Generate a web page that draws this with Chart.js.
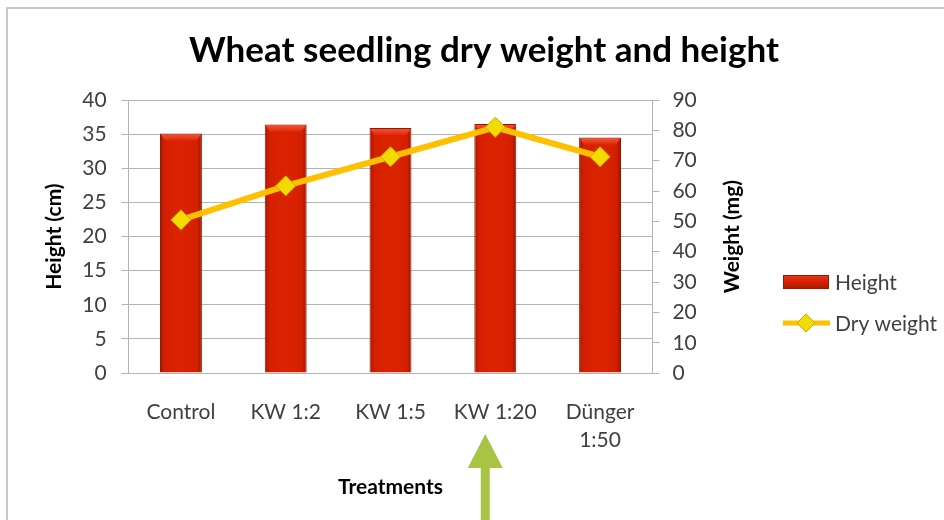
<!DOCTYPE html>
<html>
<head>
<meta charset="utf-8">
<script src="https://cdn.jsdelivr.net/npm/chart.js@4.4.1/dist/chart.umd.min.js"></script>
<style>
  html, body { margin: 0; padding: 0; background: #fff; }
  #wrap { position: relative; width: 944px; height: 520px; }
</style>
</head>
<body>
<div id="wrap"><canvas id="chart" width="944" height="520"></canvas></div>
<script>
const categories = ["Control", "KW 1:2", "KW 1:5", "KW 1:20", ["Dünger", "1:50"]];
const heightCm = [35.1, 36.4, 35.9, 36.5, 34.5];
const dryWeightMg = [50.5, 61.7, 71.3, 81, 71.3];
const heightTicks = [0, 5, 10, 15, 20, 25, 30, 35, 40];
const weightTicks = [0, 10, 20, 30, 40, 50, 60, 70, 80, 90];

const FONT = "Lato, 'DejaVu Sans', sans-serif";
const TEXT = "#404040";
const GRID = "#b4b4b4";

// red bars with darker edges, like the excel bevel
function barFill(c) {
  const chart = c.chart;
  const xs = chart.scales.x;
  if (!xs || !chart.chartArea) return "#d42000";
  const cx = xs.getPixelForValue(c.dataIndex);
  const w = (xs.width / categories.length) * 0.4;
  const g = chart.ctx.createLinearGradient(cx - w / 2, 0, cx + w / 2, 0);
  g.addColorStop(0, "#a81800");
  g.addColorStop(0.12, "#d42000");
  g.addColorStop(0.5, "#dc2300");
  g.addColorStop(0.88, "#d42000");
  g.addColorStop(1, "#a01600");
  return g;
}

/* frame, title, legend, right axis title and arrow drawn by hand */
const decorations = {
  id: "decorations",
  beforeDraw(chart) {
    const ctx = chart.ctx;
    ctx.save();
    ctx.strokeStyle = "#c8c8c8";
    ctx.lineWidth = 2;
    ctx.strokeRect(7, 8, 1000, 1000);
    ctx.restore();
  },
  afterDatasetDraw(chart, args) {
    // light bevel cap on top of each bar
    if (args.meta.type !== "bar") return;
    const ctx = chart.ctx;
    ctx.save();
    args.meta.data.forEach(bar => {
      const l = bar.x - bar.width / 2, r = bar.x + bar.width / 2, t = bar.y;
      const g = ctx.createLinearGradient(0, t, 0, t + 7);
      g.addColorStop(0, "#f25a3c");
      g.addColorStop(1, "#e0280a");
      ctx.fillStyle = g;
      ctx.beginPath();
      ctx.moveTo(l + 1, t + 1);
      ctx.lineTo(r - 1, t + 1);
      ctx.lineTo(r - 5, t + 7);
      ctx.lineTo(l + 5, t + 7);
      ctx.closePath();
      ctx.fill();
    });
    ctx.restore();
  },
  afterDraw(chart) {
    const ctx = chart.ctx;
    const area = chart.chartArea;
    ctx.save();
    // title
    ctx.fillStyle = "#000";
    ctx.font = "bold 35px " + FONT;
    ctx.textAlign = "center";
    ctx.textBaseline = "middle";
    ctx.fillText("Wheat seedling dry weight and height", 484, 51);

    // right axis title, reading bottom to top
    ctx.save();
    ctx.translate(chart.scales.yW.right - 12.6, (area.top + area.bottom) / 2);
    ctx.rotate(-Math.PI / 2);
    ctx.font = "bold 21px " + FONT;
    ctx.fillStyle = "#000";
    ctx.fillText("Weight (mg)", 0, 0);
    ctx.restore();

    // legend
    const lx = 783, ly1 = 282, ly2 = 323;
    const g = ctx.createLinearGradient(0, ly1 - 7, 0, ly1 + 7);
    g.addColorStop(0, "#e83a20");
    g.addColorStop(0.5, "#d42000");
    g.addColorStop(1, "#a81800");
    ctx.fillStyle = g;
    ctx.fillRect(lx, ly1 - 7, 46, 14);
    ctx.strokeStyle = "#a01600";
    ctx.lineWidth = 1;
    ctx.strokeRect(lx + 0.5, ly1 - 6.5, 45, 13);

    ctx.strokeStyle = "#ffc000";
    ctx.lineWidth = 5;
    ctx.beginPath();
    ctx.moveTo(lx, ly2);
    ctx.lineTo(lx + 47, ly2);
    ctx.stroke();
    ctx.fillStyle = "#f2dc00";
    ctx.strokeStyle = "#c9a800";
    ctx.lineWidth = 1;
    ctx.beginPath();
    ctx.moveTo(lx + 23, ly2 - 9);
    ctx.lineTo(lx + 32, ly2);
    ctx.lineTo(lx + 23, ly2 + 9);
    ctx.lineTo(lx + 14, ly2);
    ctx.closePath();
    ctx.fill();
    ctx.stroke();

    ctx.fillStyle = TEXT;
    ctx.font = "21px " + FONT;
    ctx.textAlign = "left";
    ctx.fillText("Height", lx + 52, ly1 + 1);
    ctx.fillText("Dry weight", lx + 52, ly2 + 1);

    // green arrow pointing at KW 1:20
    const ax = chart.scales.x.getPixelForValue(3) - 10;
    ctx.fillStyle = "#a9c444";
    ctx.fillRect(ax - 4.5, 466, 9, 60);
    ctx.beginPath();
    ctx.moveTo(ax, 434);
    ctx.lineTo(ax + 17.5, 468);
    ctx.lineTo(ax - 17.5, 468);
    ctx.closePath();
    ctx.fill();
    ctx.restore();
  }
};

new Chart(document.getElementById("chart"), {
  data: {
    labels: categories,
    datasets: [
      {
        type: "line",
        label: "Dry weight",
        data: dryWeightMg,
        yAxisID: "yW",
        borderColor: "#ffc000",
        borderWidth: 6,
        pointStyle: "rectRot",
        pointRadius: 10,
        pointBackgroundColor: "#f2dc00",
        pointBorderColor: "#c9a800",
        pointBorderWidth: 1,
        tension: 0,
        order: 0
      },
      {
        type: "bar",
        label: "Height",
        data: heightCm,
        yAxisID: "yH",
        backgroundColor: barFill,
        borderColor: "#9a1500",
        borderWidth: 1,
        barPercentage: 0.4,
        categoryPercentage: 1,
        order: 1
      }
    ]
  },
  options: {
    responsive: false,
    animation: false,
    layout: { padding: { left: 42, right: 199, top: 100, bottom: 20 } },
    plugins: {
      legend: { display: false },
      title: { display: false },
      tooltip: { enabled: false }
    },
    scales: {
      x: {
        grid: { display: false, drawTicks: false },
        border: { display: true, color: GRID, width: 1 },
        ticks: { color: TEXT, font: { family: FONT, size: 21, lineHeight: 1.35 }, padding: 25, maxRotation: 0, autoSkip: false },
        // chart.js reserves the tick padding twice, the negative top pulls it back
        title: { display: true, text: "Treatments", color: "#000", font: { family: FONT, size: 21, weight: "bold" }, padding: { top: -5, bottom: 0 } }
      },
      yH: {
        position: "left",
        min: 0,
        max: 40,
        afterBuildTicks: s => { s.ticks = heightTicks.map(v => ({ value: v })); },
        grid: { color: GRID, lineWidth: 1, tickLength: 7 },
        border: { display: true, color: GRID },
        ticks: { color: TEXT, font: { family: FONT, size: 21 }, padding: 15, autoSkip: false },
        title: { display: true, text: "Height (cm)", color: "#000", font: { family: FONT, size: 21, weight: "bold" }, padding: { top: 0, bottom: 0 } }
      },
      yW: {
        position: "right",
        min: 0,
        max: 90,
        afterBuildTicks: s => { s.ticks = weightTicks.map(v => ({ value: v })); },
        grid: { drawOnChartArea: false, color: GRID, tickLength: 7 },
        border: { display: true, color: GRID },
        ticks: { color: TEXT, font: { family: FONT, size: 21 }, padding: 13, autoSkip: false },
        // space is kept here, the text itself is drawn by the plugin
        title: { display: true, text: "Weight (mg)", color: "rgba(0,0,0,0)", font: { family: FONT, size: 21, weight: "bold" }, padding: { top: 10, bottom: 0 } }
      }
    }
  },
  plugins: [decorations]
});
</script>
</body>
</html>
